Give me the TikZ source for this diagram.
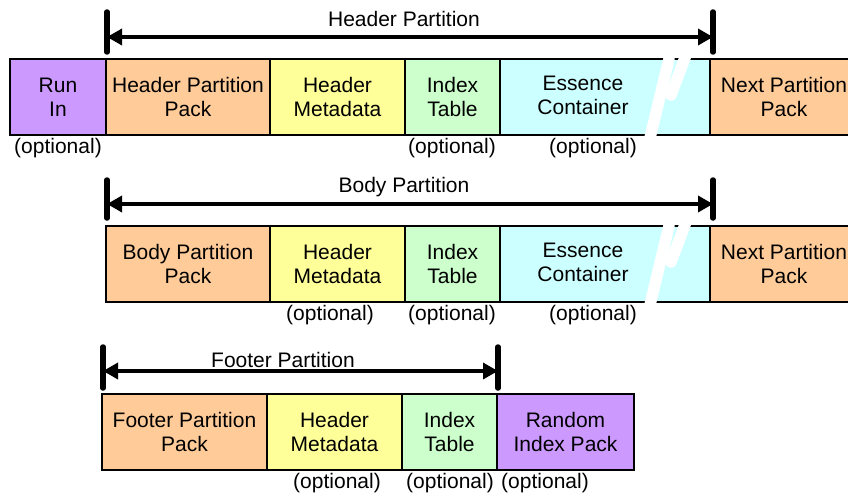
\documentclass[tikz,border=0pt]{standalone}
\usepackage{fontspec}
\setmainfont{Liberation Sans}
\usetikzlibrary{arrows.meta}

\definecolor{runpurple}{HTML}{CC99FF}
\definecolor{packorange}{HTML}{FFCC99}
\definecolor{metayellow}{HTML}{FFFF99}
\definecolor{idxgreen}{HTML}{CCFFCC}
\definecolor{esscyan}{HTML}{CCFFFF}

\begin{document}
\begin{tikzpicture}[x = 1pt, y = -1pt,
                    box/.style = {draw, line width = 1.6pt, inner sep = 0pt, outer sep = 0pt,
                                  minimum height = 76pt, align = center,
                                  font = \fontsize{21}{24}\selectfont},
                    txt/.style = {align = center, inner sep = 0pt, font = \fontsize{21}{24}\selectfont},
                    opt/.style = {inner sep = 0pt, font = \fontsize{21}{24}\selectfont},
                    span/.style = {line width = 3.4pt, {Triangle[length = 15pt, width = 16pt]}-{Triangle[length = 15pt, width = 16pt]}},
                    bar/.style = {line width = 5.5pt, line cap = round},
                    gap/.style = {white, line width = 11.5pt, line cap = round}]
      \useasboundingbox (0, 0) rectangle (848, 495);

      % header partition
      \node [box, fill = runpurple, minimum width = 96pt] (runin) at (58, 97) {Run\\In};
      \node [box, fill = packorange, minimum width = 164pt] (hpp) at (188, 97) {Header Partition\\Pack};
      \node [box, fill = metayellow, minimum width = 135pt] (hmeta) at (337.5, 97) {Header\\Metadata};
      \node [box, fill = idxgreen, minimum width = 95pt] (hidx) at (452.5, 97) {Index\\Table};
      \node [box, fill = esscyan, minimum width = 210pt] (hess) at (605, 97) {};
      \node [box, fill = packorange, minimum width = 148pt] (hnext) at (784, 97) {Next Partition\\Pack};
      \node [txt] (hesstxt) at (583, 95) {Essence\\Container};
      \draw [gap] (649, 142) -- (669, 59);
      \draw [gap] (686, 55) -- (671, 95);

      \coordinate (hl) at (107, 37);
      \coordinate (hr) at (713, 37);
      \draw [span] (hl) -- (hr);
      \draw [bar] (107, 12) -- (107, 52);
      \draw [bar] (713, 12) -- (713, 52);
      \node [txt] (htitle) at (404, 19) {Header Partition};

      \node [opt] (hopt1) at (58, 148) {(optional)};
      \node [opt] (hopt2) at (452, 148) {(optional)};
      \node [opt] (hopt3) at (593, 148) {(optional)};

      % body partition
      \node [box, fill = packorange, minimum width = 164pt] (bpp) at (188, 264) {Body Partition\\Pack};
      \node [box, fill = metayellow, minimum width = 135pt] (bmeta) at (337.5, 264) {Header\\Metadata};
      \node [box, fill = idxgreen, minimum width = 95pt] (bidx) at (452.5, 264) {Index\\Table};
      \node [box, fill = esscyan, minimum width = 210pt] (bess) at (605, 264) {};
      \node [box, fill = packorange, minimum width = 148pt] (bnext) at (784, 264) {Next Partition\\Pack};
      \node [txt] (besstxt) at (583, 262) {Essence\\Container};
      \draw [gap] (649, 309) -- (669, 226);
      \draw [gap] (686, 222) -- (671, 262);

      \coordinate (bl) at (107, 204);
      \coordinate (br) at (713, 204);
      \draw [span] (bl) -- (br);
      \draw [bar] (107, 180) -- (107, 218);
      \draw [bar] (713, 180) -- (713, 218);
      \node [txt] (btitle) at (404, 187) {Body Partition};

      \node [opt] (bopt1) at (330, 315) {(optional)};
      \node [opt] (bopt2) at (452, 315) {(optional)};
      \node [opt] (bopt3) at (593, 315) {(optional)};

      % footer partition
      \node [box, fill = packorange, minimum width = 165pt] (fpp) at (184.5, 432) {Footer Partition\\Pack};
      \node [box, fill = metayellow, minimum width = 135pt] (fmeta) at (334.5, 432) {Header\\Metadata};
      \node [box, fill = idxgreen, minimum width = 95pt] (fidx) at (449.5, 432) {Index\\Table};
      \node [box, fill = runpurple, minimum width = 137pt] (rip) at (565.5, 432) {Random\\Index Pack};

      \coordinate (fl) at (103, 371);
      \coordinate (fr) at (498, 371);
      \draw [span] (fl) -- (fr);
      \draw [bar] (103, 347) -- (103, 388);
      \draw [bar] (498, 347) -- (498, 388);
      \node [txt] (ftitle) at (283, 360) {Footer Partition};

      \node [opt] (fopt1) at (337, 483) {(optional)};
      \node [opt] (fopt2) at (450, 483) {(optional)};
      \node [opt] (fopt3) at (545, 483) {(optional)};
\end{tikzpicture}
\end{document}
